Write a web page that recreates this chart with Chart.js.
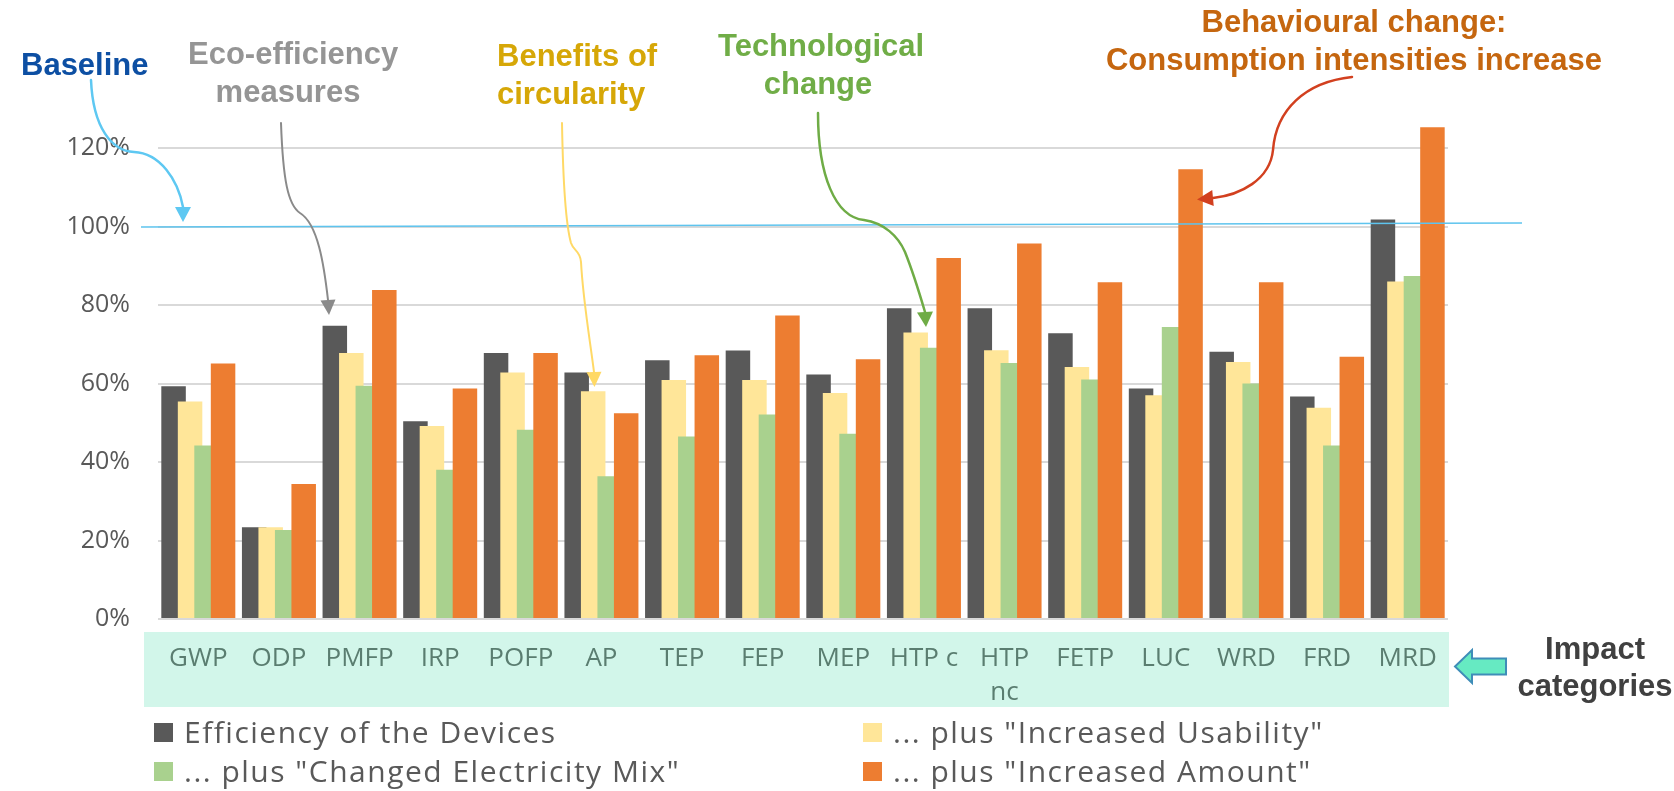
<!DOCTYPE html>
<html><head><meta charset="utf-8">
<script src="https://cdn.jsdelivr.net/npm/chart.js@4.4.0/dist/chart.umd.min.js"></script>
<style>
html,body{margin:0;padding:0;background:#fff;}
#wrap{position:relative;width:1674px;height:791px;overflow:hidden;}
#c{position:absolute;left:0;top:0;}
.ann{position:absolute;font-family:"Liberation Sans",Arial,sans-serif;font-weight:bold;font-size:31px;line-height:38px;white-space:nowrap;}
.ctr{text-align:center;}
.leg{position:absolute;font-family:"Open Sans",sans-serif;font-size:30px;letter-spacing:1.5px;color:#595959;white-space:nowrap;line-height:36px;}
.sw{position:absolute;width:19px;height:19px;}
</style></head>
<body><div id="wrap"><canvas id="c" width="1674" height="791"></canvas>
<div class="ann" style="left:21px;top:46px;color:#0d4fa3;">Baseline</div>
<div class="ann ctr" style="left:188px;width:200px;top:35px;color:#959595;">Eco-efficiency<br>measures</div>
<div class="ann" style="left:497px;top:37px;color:#d6a707;">Benefits of<br>circularity</div>
<div class="ann ctr" style="left:718px;width:200px;top:27px;color:#70ad47;">Technological<br>change</div>
<div class="ann ctr" style="left:1104px;width:500px;top:3px;color:#c5660f;">Behavioural change:<br>Consumption intensities increase</div>
<div class="ann ctr" style="left:1495px;width:200px;top:630px;line-height:37px;color:#404040;">Impact<br>categories</div>
<div id="legend"></div>
</div>
<script>
const categories = ['GWP','ODP','PMFP','IRP','POFP','AP','TEP','FEP','MEP','HTP c',['HTP','nc'],'FETP','LUC','WRD','FRD','MRD'];
const efficiencyDevices     = [59.3,23.4,74.7,50.4,67.8,62.8,65.9,68.4,62.3,79.2,79.2,72.8,58.7,68.1,56.7,101.8];
const increasedUsability    = [55.4,23.4,67.8,49.2,62.8,58.0,60.9,60.9,57.6,73.0,68.5,64.2,57.0,65.5,53.8,86.0];
const changedElectricityMix = [44.2,22.7,59.4,38.0,48.2,36.4,46.5,52.1,47.2,69.1,65.2,61.0,74.4,60.0,44.2,87.4];
const increasedAmount       = [65.1,34.4,83.8,58.7,67.8,52.4,67.2,77.3,66.2,92.0,95.7,85.8,114.6,85.8,66.8,125.3];
const seriesNames = ['Efficiency of the Devices','... plus "Increased Usability"','... plus "Changed Electricity Mix"','... plus "Increased Amount"'];
const seriesColors = ['#595959','#ffe699','#a9d18e','#ed7d31'];
const yTicks = [0,20,40,60,80,100,120];
const baselineValue = 100;

// HTML legend (two columns)
const legendPos = [[154,723],[863,723],[154,762],[863,762]];
const legendOrder = [0,1,2,3];
const legEl = document.getElementById('legend');
legendOrder.forEach((si,k)=>{
  const [x,y] = legendPos[k];
  const sw = document.createElement('div');
  sw.className='sw'; sw.style.left=x+'px'; sw.style.top=y+'px'; sw.style.background=seriesColors[si];
  legEl.appendChild(sw);
  const t = document.createElement('div');
  t.className='leg'; t.style.left=(x+30)+'px'; t.style.top=(y-9)+'px'; t.textContent=seriesNames[si];
  legEl.appendChild(t);
});

const orderedDraw = {
  id:'orderedDraw',
  beforeDatasetsDraw(chart){
    for(let i=0;i<chart.data.datasets.length;i++){
      const meta = chart.getDatasetMeta(i);
      if(!meta.hidden) meta.controller.draw();
    }
    return false;
  }
};

const bgBox = {
  id:'bgBox',
  beforeDraw(chart){
    const a = chart.chartArea, ctx = chart.ctx;
    ctx.save();
    ctx.fillStyle = '#d2f6ea';
    ctx.fillRect(a.left-14, a.bottom+13, (a.right+1)-(a.left-14), 75);
    ctx.restore();
  }
};

function curveArrow(ctx, start, segs, tip, color, lw, hw){
  ctx.save();
  ctx.strokeStyle=color; ctx.fillStyle=color; ctx.lineWidth=lw; ctx.lineCap='round';
  ctx.beginPath(); ctx.moveTo(start[0],start[1]);
  segs.forEach(s=>ctx.bezierCurveTo(s[0],s[1],s[2],s[3],s[4],s[5]));
  ctx.stroke();
  const last = segs[segs.length-1];
  const bx=last[4], by=last[5];
  let dx=tip[0]-bx, dy=tip[1]-by; const L=Math.hypot(dx,dy); dx/=L; dy/=L;
  const nx=-dy, ny=dx;
  ctx.beginPath();
  ctx.moveTo(tip[0],tip[1]);
  ctx.lineTo(bx+nx*hw, by+ny*hw);
  ctx.lineTo(bx-nx*hw, by-ny*hw);
  ctx.closePath(); ctx.fill();
  ctx.restore();
}

const annotations = {
  id:'annotations',
  afterDraw(chart){
    const ctx = chart.ctx, a = chart.chartArea, y = chart.scales.y;
    const yb = y.getPixelForValue(baselineValue);
    ctx.save();
    ctx.strokeStyle='#5ec4ee'; ctx.lineWidth=1.6;
    ctx.beginPath(); ctx.moveTo(a.left-17, yb+0.5); ctx.lineTo(1522, yb-3.5); ctx.stroke();
    ctx.restore();
    curveArrow(ctx,[91,80],[[93,128,112,151,134,152],[160,153,178,180,183,207]],[183,222],'#5ec8f2',2.5,8);
    curveArrow(ctx,[281,123],[[283,180,288,205,300,213],[318,224,324,265,328,300]],[329,315],'#8a8a8a',2,7.5);
    curveArrow(ctx,[562,123],[[563,180,566,225,571,243],[574,252,580,250,581,262],[583,300,590,340,594,372]],[594.5,387],'#ffd966',2,7.5);
    curveArrow(ctx,[818,113],[[818,175,835,217,864,220],[884,223,898,236,905,252],[913,272,920,295,925,312]],[926,327],'#6fac46',2.5,8);
    curveArrow(ctx,[1352,77],[[1305,82,1276,110,1273,150],[1270,180,1240,195,1213,198]],[1197,199.5],'#d2401f',2.5,8);
    ctx.save();
    ctx.beginPath();
    ctx.moveTo(1455,666.5); ctx.lineTo(1472,650); ctx.lineTo(1472,658.5); ctx.lineTo(1506,658.5);
    ctx.lineTo(1506,674.5); ctx.lineTo(1472,674.5); ctx.lineTo(1472,683); ctx.closePath();
    ctx.fillStyle='#66eac2'; ctx.fill();
    ctx.strokeStyle='#3f8db8'; ctx.lineWidth=2; ctx.stroke();
    ctx.restore();
  }
};

const seriesData = [efficiencyDevices, increasedUsability, changedElectricityMix, increasedAmount];
new Chart(document.getElementById('c'), {
  type:'bar',
  data:{
    labels:categories,
    datasets: seriesData.map((d,i)=>({
      label:seriesNames[i], data:d, backgroundColor:seriesColors[i], borderWidth:0,
      categoryPercentage:0.8186, barPercentage:1.485, clip:false
    }))
  },
  options:{
    responsive:false, animation:false,
    layout:{padding:{left:0,right:226,top:148,bottom:84}},
    plugins:{legend:{display:false}, tooltip:{enabled:false}},
    scales:{
      x:{
        grid:{display:false}, border:{display:false},
        ticks:{color:'#5a7d70', font:{family:'Open Sans', size:26, lineHeight:1.3}, padding:15, autoSkip:false, maxRotation:0, minRotation:0},
        afterFit:(s)=>{s.height=88;}
      },
      y:{
        min:0, max:120,
        grid:{color:'#d9d9d9', lineWidth:2, drawTicks:false}, border:{display:false},
        ticks:{color:'#595959', font:{family:'Open Sans', size:25}, padding:28, callback:(v)=>v+'%'},
        afterBuildTicks:(s)=>{s.ticks = yTicks.map(v=>({value:v}));},
        afterFit:(s)=>{s.width=158;}
      }
    }
  },
  plugins:[bgBox, orderedDraw, annotations]
});
</script>
</body></html>
